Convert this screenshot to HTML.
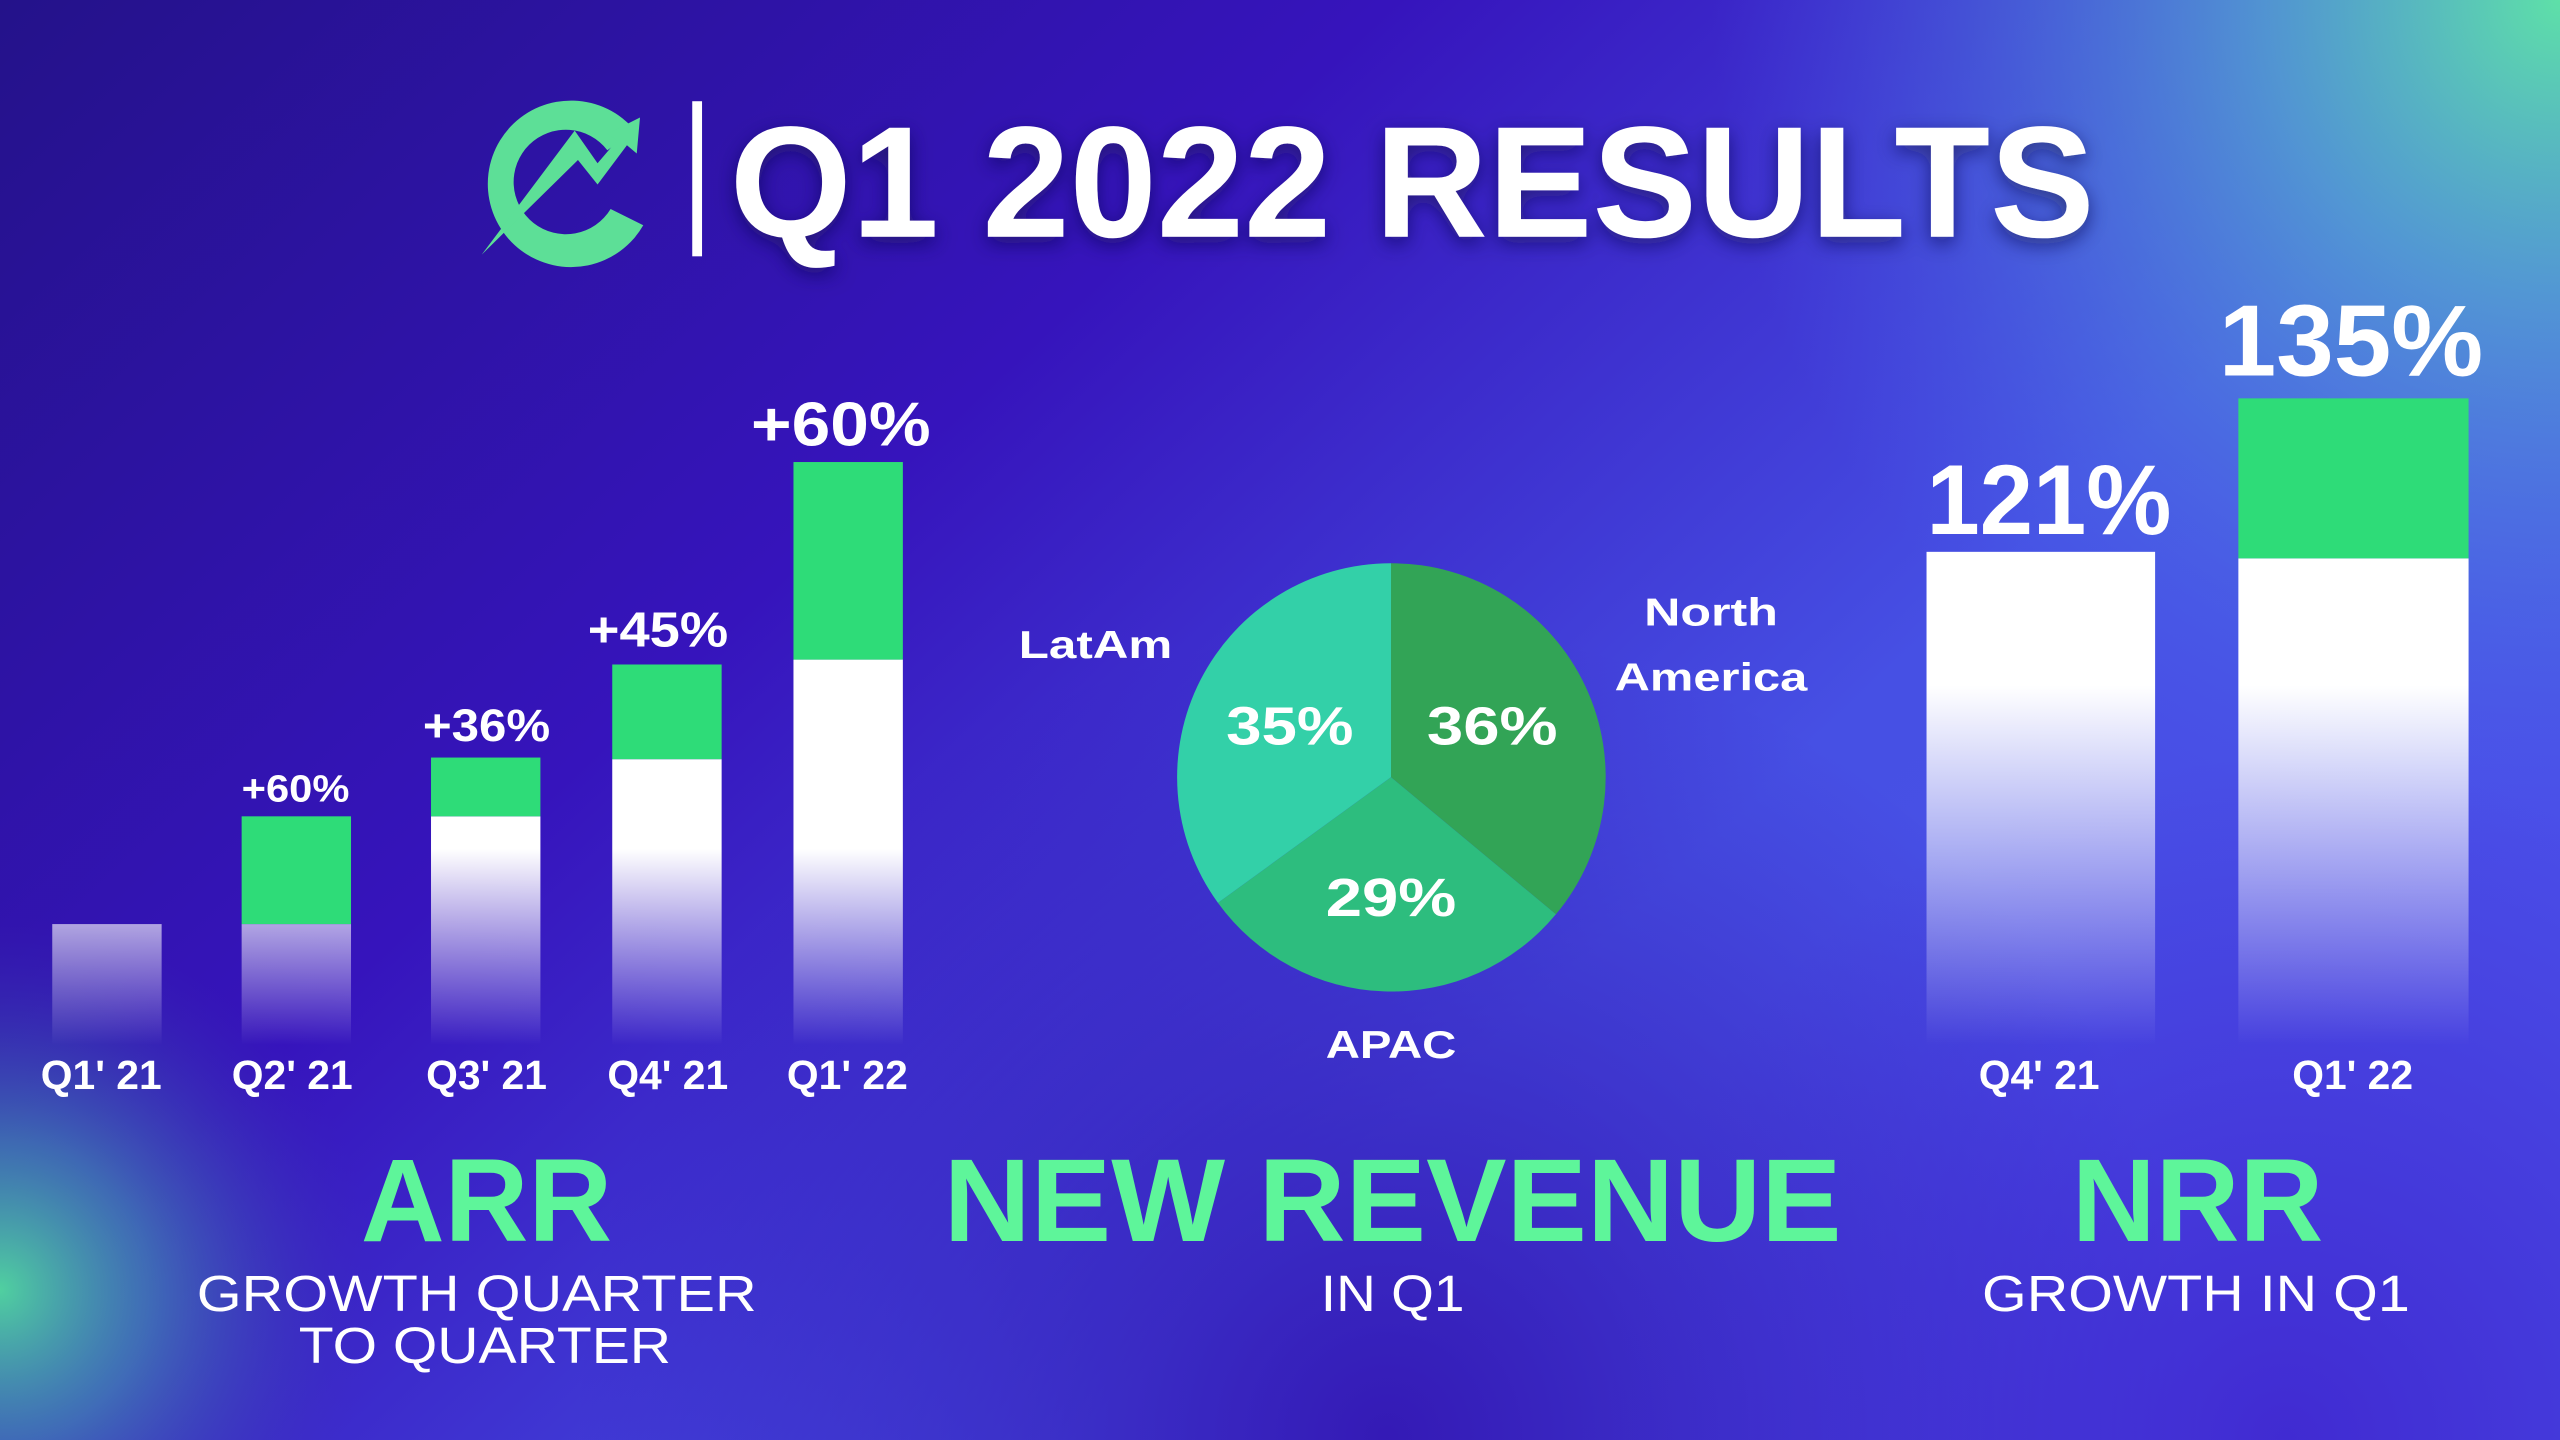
<!DOCTYPE html>
<html><head><meta charset="utf-8"><style>
html,body{margin:0;padding:0;width:2560px;height:1440px;overflow:hidden;background:#2e14a8}
svg{display:block}
text{font-family:"Liberation Sans",sans-serif}
</style></head><body>
<svg width="2560" height="1440" viewBox="0 0 1568 882" preserveAspectRatio="none">
<defs>
<linearGradient id="bg" x1="0" y1="0" x2="1" y2="0.6">
<stop offset="0" stop-color="#24128a"/>
<stop offset="0.4" stop-color="#3614bc"/>
<stop offset="0.75" stop-color="#4650e4"/>
<stop offset="1" stop-color="#4a4ee8"/>
</linearGradient>
<radialGradient id="tr" cx="1568" cy="0" r="520" gradientUnits="userSpaceOnUse">
<stop offset="0" stop-color="#5ee0a8" stop-opacity="1"/>
<stop offset="0.35" stop-color="#55a8d0" stop-opacity="0.8"/>
<stop offset="1" stop-color="#4a6af0" stop-opacity="0"/>
</radialGradient>
<radialGradient id="bl" cx="0" cy="790" r="230" gradientUnits="userSpaceOnUse">
<stop offset="0" stop-color="#50d0a0" stop-opacity="1"/>
<stop offset="0.4" stop-color="#44a0b0" stop-opacity="0.6"/>
<stop offset="1" stop-color="#3a30b0" stop-opacity="0"/>
</radialGradient>
<radialGradient id="bm" cx="850" cy="880" r="500" gradientUnits="userSpaceOnUse">
<stop offset="0" stop-color="#3214b0" stop-opacity="0.9"/>
<stop offset="1" stop-color="#3214b0" stop-opacity="0"/>
</radialGradient>
<radialGradient id="br" cx="1400" cy="882" r="420" gradientUnits="userSpaceOnUse">
<stop offset="0" stop-color="#3e22cc" stop-opacity="0.8"/>
<stop offset="1" stop-color="#3e22cc" stop-opacity="0"/>
</radialGradient>
<linearGradient id="fa" x1="0" y1="520" x2="0" y2="640" gradientUnits="userSpaceOnUse">
<stop offset="0" stop-color="#fff" stop-opacity="1"/>
<stop offset="1" stop-color="#fff" stop-opacity="0"/>
</linearGradient>
<linearGradient id="fn" x1="0" y1="420" x2="0" y2="640" gradientUnits="userSpaceOnUse">
<stop offset="0" stop-color="#fff" stop-opacity="1"/>
<stop offset="1" stop-color="#fff" stop-opacity="0"/>
</linearGradient>
<filter id="sh" x="-10%" y="-30%" width="120%" height="160%"><feDropShadow dx="0" dy="4" stdDeviation="6" flood-color="#10084a" flood-opacity="0.6"/></filter>
</defs>
<rect width="1568" height="882" fill="url(#bg)"/>
<rect width="1568" height="882" fill="url(#bm)"/>
<rect width="1568" height="882" fill="url(#br)"/>
<rect width="1568" height="882" fill="url(#tr)"/>
<rect width="1568" height="882" fill="url(#bl)"/>

<!-- logo -->
<path d="M389 80 A51 51 0 1 0 394 138 L374 128 A32 32 0 1 1 372 92 Z" fill="#5ddf97"/>
<polygon points="295,156 352,80 366,100 378,86 372,82 392,72 390,94 384,89 366,113 354,98" fill="#5ddf97"/>
<rect x="424" y="62" width="6" height="95" fill="#fff"/>
<text x="447" y="145" font-size="97" font-weight="bold" fill="#fff" textLength="836" lengthAdjust="spacingAndGlyphs" filter="url(#sh)">Q1 2022 RESULTS</text>

<!-- ARR bars -->
<g fill="url(#fa)">
<rect x="32" y="566" width="67" height="76"/>
<rect x="148" y="566" width="67" height="76"/>
<rect x="264" y="500" width="67" height="142"/>
<rect x="375" y="465" width="67" height="177"/>
<rect x="486" y="404" width="67" height="238"/>
</g>
<g fill="#2edc78">
<rect x="148" y="500" width="67" height="66"/>
<rect x="264" y="464" width="67" height="36"/>
<rect x="375" y="407" width="67" height="58"/>
<rect x="486" y="283" width="67" height="121"/>
</g>
<g fill="#fff" font-weight="bold" text-anchor="middle">
<text x="181" y="491" font-size="23" textLength="66" lengthAdjust="spacingAndGlyphs">+60%</text>
<text x="298" y="454" font-size="28" textLength="78" lengthAdjust="spacingAndGlyphs">+36%</text>
<text x="403" y="396" font-size="30" textLength="86" lengthAdjust="spacingAndGlyphs">+45%</text>
<text x="515" y="273" font-size="38" textLength="110" lengthAdjust="spacingAndGlyphs">+60%</text>
<g font-size="25">
<text x="62" y="667">Q1' 21</text>
<text x="179" y="667">Q2' 21</text>
<text x="298" y="667">Q3' 21</text>
<text x="409" y="667">Q4' 21</text>
<text x="519" y="667">Q1' 22</text>
<text x="1249" y="667">Q4' 21</text>
<text x="1441" y="667">Q1' 22</text>
</g>
</g>

<!-- pie -->
<path d="M852 476 L852 345 A131 131 0 0 1 953 560 Z" fill="#32a456"/>
<path d="M852 476 L953 560 A131 131 0 0 1 746 553 Z" fill="#2dbd7e"/>
<path d="M852 476 L746 553 A131 131 0 0 1 852 345 Z" fill="#33d0a8"/>
<g fill="#fff" font-weight="bold" text-anchor="middle">
<text x="790" y="456" font-size="33" textLength="78" lengthAdjust="spacingAndGlyphs">35%</text>
<text x="914" y="456" font-size="33" textLength="80" lengthAdjust="spacingAndGlyphs">36%</text>
<text x="852" y="561" font-size="33" textLength="80" lengthAdjust="spacingAndGlyphs">29%</text>
<g font-size="24">
<text x="671" y="403" textLength="94" lengthAdjust="spacingAndGlyphs">LatAm</text>
<text x="1048" y="383" textLength="82" lengthAdjust="spacingAndGlyphs">North</text>
<text x="1048" y="423" textLength="118" lengthAdjust="spacingAndGlyphs">America</text>
<text x="852" y="648" textLength="80" lengthAdjust="spacingAndGlyphs">APAC</text>
</g>
</g>

<!-- NRR bars -->
<rect x="1180" y="338" width="140" height="304" fill="url(#fn)"/>
<rect x="1371" y="342" width="141" height="300" fill="url(#fn)"/>
<rect x="1371" y="244" width="141" height="98" fill="#2edc78"/>
<g fill="#fff" font-weight="bold" text-anchor="middle">
<text x="1255" y="327" font-size="61" textLength="150" lengthAdjust="spacingAndGlyphs">121%</text>
<text x="1440" y="230" font-size="62" textLength="162" lengthAdjust="spacingAndGlyphs">135%</text>
</g>

<!-- bottom titles -->
<g fill="#5ef59a" font-weight="bold" text-anchor="middle" font-size="72">
<text x="298" y="760" textLength="154" lengthAdjust="spacingAndGlyphs">ARR</text>
<text x="853" y="760" textLength="550" lengthAdjust="spacingAndGlyphs">NEW REVENUE</text>
<text x="1346" y="760" textLength="154" lengthAdjust="spacingAndGlyphs">NRR</text>
</g>
<g fill="#fff" text-anchor="middle" font-size="31">
<text x="292" y="803" textLength="343" lengthAdjust="spacingAndGlyphs">GROWTH QUARTER</text>
<text x="297" y="835" textLength="228" lengthAdjust="spacingAndGlyphs">TO QUARTER</text>
<text x="853" y="803" textLength="88" lengthAdjust="spacingAndGlyphs">IN Q1</text>
<text x="1345" y="803" textLength="262" lengthAdjust="spacingAndGlyphs">GROWTH IN Q1</text>
</g>
</svg>
</body></html>
